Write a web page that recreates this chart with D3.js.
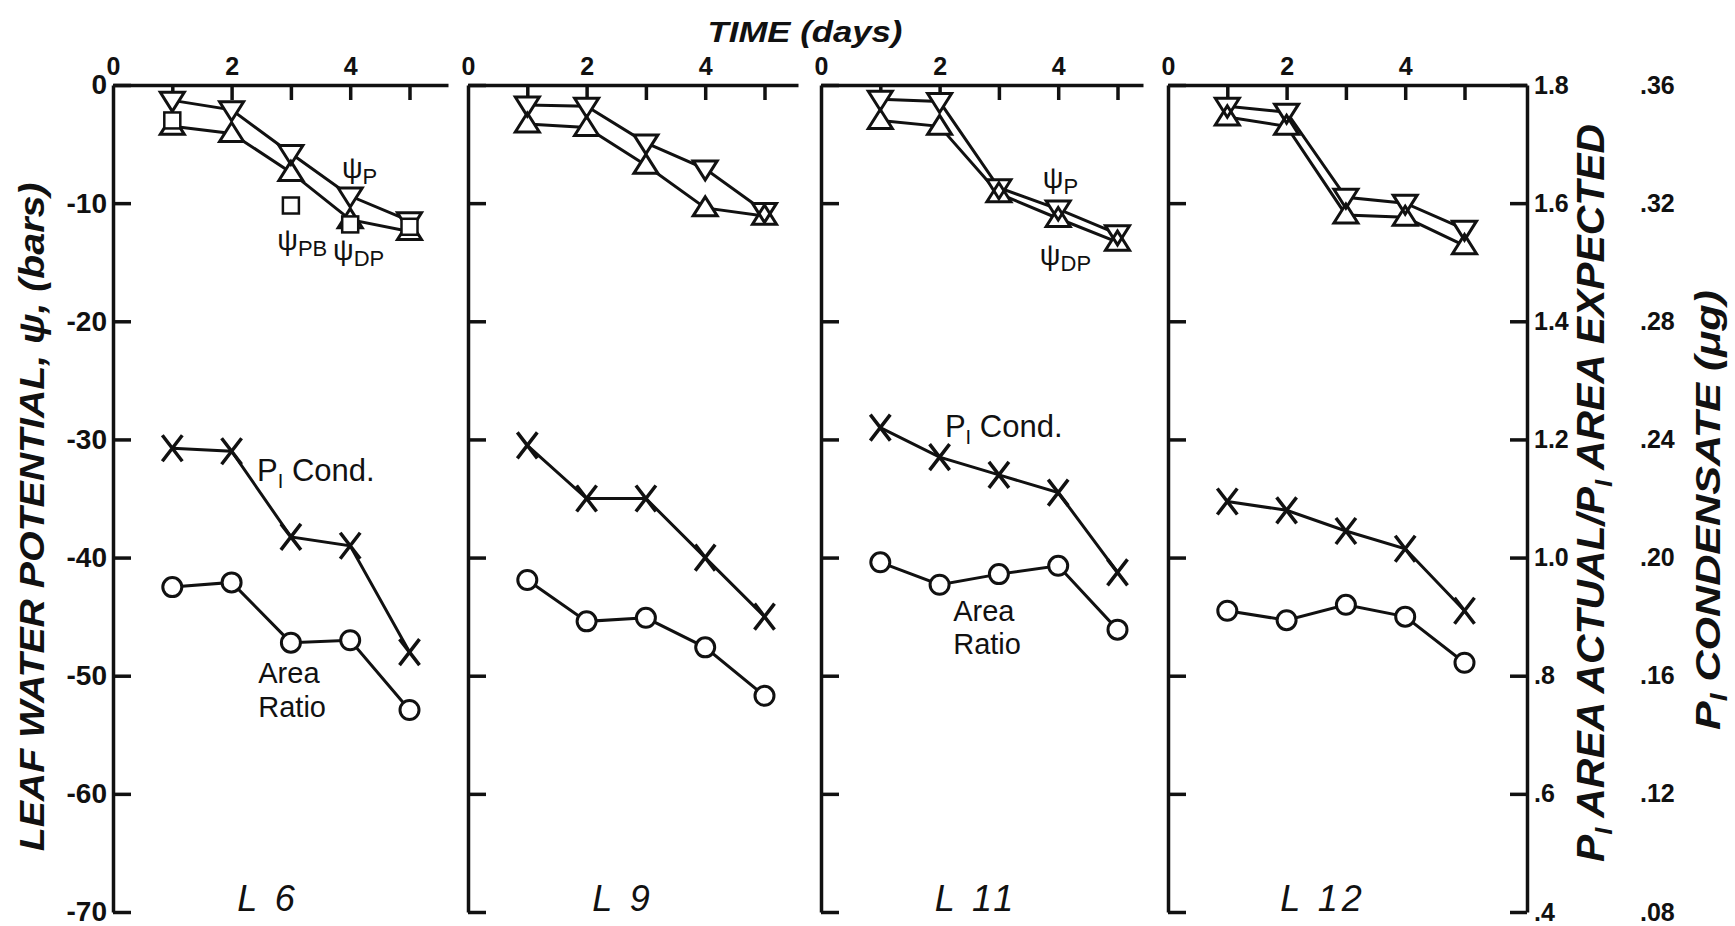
<!DOCTYPE html>
<html>
<head>
<meta charset="utf-8">
<script src="https://cdn.jsdelivr.net/npm/d3@7"></script>
<style>
body { margin: 0; background: #fff; }
svg { display: block; }
text { font-family: "Liberation Sans", Arial, sans-serif; fill: #111; }
.axis path, .axis line { stroke: #111; stroke-width: 3.5; }
.axis text { font-size: 28px; font-weight: bold; fill: #111; }
.lbl text { font-size: 25px; font-weight: bold; fill: #111; }
</style>
</head>
<body>
<svg id="chart" width="1735" height="926"></svg>
<script>
// leaves, days after start
let panelNames = ['L 6', 'L 9', 'L 11', 'L 12']
let days = [1, 2, 3, 4, 5]

// leaf water potential (bars)
let psiP = [
  [-1.3, -2.1, -5.8, -9.4, -11.5],
  [-1.7, -1.8, -4.9, -7.1, -10.7],
  [-1.2, -1.4, -8.7, -10.5, -12.6],
  [-1.8, -2.3, -9.5, -10.0, -12.2]
]
let psiDP = [
  [-3.5, -4.1, -7.4, -11.4, -12.4],
  [-3.3, -3.6, -6.8, -10.4, -11.1],
  [-3.0, -3.5, -9.2, -11.3, -13.3],
  [-2.7, -3.5, -11.0, -11.2, -13.6]
]
// psi PB only measured on L 6
let psiPBdays = [1, 3, 4, 5]
let psiPB = [-3.0, -10.2, -11.8, -12.0]

// P1 condensate (ug)
let p1Cond = [
  [0.237, 0.236, 0.207, 0.204, 0.168],
  [0.238, 0.220, 0.220, 0.200, 0.180],
  [0.244, 0.234, 0.228, 0.222, 0.195],
  [0.219, 0.216, 0.209, 0.203, 0.182]
]
// P1 area actual / P1 area expected
let areaRatio = [
  [0.950, 0.958, 0.856, 0.860, 0.742],
  [0.962, 0.892, 0.898, 0.848, 0.766],
  [0.992, 0.954, 0.972, 0.986, 0.878],
  [0.910, 0.894, 0.920, 0.900, 0.822]
]

// ticks
let dayTicks = [1, 2, 3, 4, 5]
let dayLabels = [0, 2, 4]
let psiTicks = [0, -10, -20, -30, -40, -50, -60, -70]
let ratioTicks = [1.8, 1.6, 1.4, 1.2, 1.0, 0.8, 0.6, 0.4]
let ratioLabels = ['1.8', '1.6', '1.4', '1.2', '1.0', '.8', '.6', '.4']
let condTicks = [0.36, 0.32, 0.28, 0.24, 0.20, 0.16, 0.12, 0.08]
let condLabels = ['.36', '.32', '.28', '.24', '.20', '.16', '.12', '.08']

// layout
let panelLeft = [113, 468, 821, 1168]
let panelWidth = [335, 330, 322, 359]
let dayPx = 59.3
let plotTop = 85, plotBottom = 912

let svg = d3.select('#chart')

let yPsi = d3.scaleLinear().domain([0, -70]).range([plotTop, plotBottom])
let yRatio = d3.scaleLinear().domain([1.8, 0.4]).range([plotTop, plotBottom])
let yCond = d3.scaleLinear().domain([0.36, 0.08]).range([plotTop, plotBottom])

let downTri = 'M-12,-8L12,-8L0,11Z'
let upTri = 'M-12,8L12,8L0,-11Z'
let cross = 'M-10,-13L10,13M10,-13L-10,13'

panelNames.forEach((name, i) => {
  let w = panelWidth[i]
  let x = d3.scaleLinear().domain([0, w / dayPx]).range([0, w])
  let g = svg.append('g').attr('transform', `translate(${panelLeft[i]},0)`)

  // top time axis, ticks inside
  g.append('g').attr('class', 'axis').attr('transform', `translate(0,${plotTop})`)
    .call(d3.axisTop(x).tickValues(dayTicks).tickSizeInner(-15).tickSizeOuter(0).tickFormat(''))
  g.append('g').attr('class', 'lbl').attr('transform', `translate(0,${plotTop})`)
    .call(d3.axisTop(x).tickValues(dayLabels).tickSize(0).tickPadding(10).tickFormat(d => String(d)))
    .call(a => a.select('.domain').remove())

  // left psi axis, only the first one labelled
  g.append('g').attr('class', 'axis')
    .call(d3.axisLeft(yPsi).tickValues(psiTicks).tickSizeInner(-18).tickSizeOuter(0).tickPadding(6)
      .tickFormat(d => i === 0 ? String(d) : ''))

  if (i === 3) {
    g.append('g').attr('class', 'axis lbl').attr('transform', `translate(${w},0)`)
      .call(d3.axisRight(yRatio).tickValues(ratioTicks).tickSizeInner(-17).tickSizeOuter(0).tickPadding(7)
        .tickFormat((d, k) => ratioLabels[k]))
  }

  let lineOf = (vals, ys) => d3.line().x((d, k) => x(days[k])).y(d => ys(d))(vals)

  let series = [
    { vals: psiP[i], ys: yPsi, shape: downTri },
    { vals: psiDP[i], ys: yPsi, shape: upTri },
    { vals: p1Cond[i], ys: yCond, shape: cross },
    { vals: areaRatio[i], ys: yRatio, shape: 'circle' }
  ]

  series.forEach(s => {
    g.append('path').attr('d', lineOf(s.vals, s.ys))
      .attr('fill', 'none').attr('stroke', '#111').attr('stroke-width', 3)
  })

  // triangles: white fills first, outlines after so both stay visible
  let tri = series.slice(0, 2)
  tri.forEach(s => {
    g.selectAll(null).data(s.vals).enter().append('path')
      .attr('d', s.shape)
      .attr('transform', (d, k) => `translate(${x(days[k])},${s.ys(d)})`)
      .attr('fill', '#fff')
  })
  tri.forEach(s => {
    g.selectAll(null).data(s.vals).enter().append('path')
      .attr('d', s.shape)
      .attr('transform', (d, k) => `translate(${x(days[k])},${s.ys(d)})`)
      .attr('fill', 'none').attr('stroke', '#111').attr('stroke-width', 3).attr('stroke-linejoin', 'miter')
  })

  if (i === 0) {
    g.selectAll(null).data(psiPB).enter().append('rect')
      .attr('x', (d, k) => x(psiPBdays[k]) - 8)
      .attr('y', d => yPsi(d) - 8)
      .attr('width', 16).attr('height', 16)
      .attr('fill', '#fff').attr('stroke', '#111').attr('stroke-width', 2.5)
  }

  g.selectAll(null).data(areaRatio[i]).enter().append('circle')
    .attr('cx', (d, k) => x(days[k]))
    .attr('cy', d => yRatio(d))
    .attr('r', 9.5)
    .attr('fill', '#fff').attr('stroke', '#111').attr('stroke-width', 3)

  g.selectAll(null).data(p1Cond[i]).enter().append('path')
    .attr('d', cross)
    .attr('transform', (d, k) => `translate(${x(days[k])},${yCond(d)})`)
    .attr('fill', 'none').attr('stroke', '#111').attr('stroke-width', 3.5)

  // leaf label
  g.append('text').attr('x', 155).attr('y', 911)
    .attr('text-anchor', 'middle').attr('font-size', 36).attr('font-style', 'italic')
    .attr('letter-spacing', 4).text(name)

  // curve annotations
  let psiLabel = (sub, day, val) => {
    let t = g.append('text').attr('x', x(day)).attr('y', yPsi(val)).attr('font-size', 29)
    t.append('tspan').text('ψ')
    t.append('tspan').attr('font-size', 22).attr('dy', 6).text(sub)
  }
  let plainLabel = (day, val, str) => {
    g.append('text').attr('x', x(day)).attr('y', yPsi(val)).attr('font-size', 29).text(str)
  }
  let condLabel = (day, val) => {
    let t = g.append('text').attr('x', x(day)).attr('y', yPsi(val)).attr('font-size', 31)
    t.append('tspan').text('P')
    t.append('tspan').attr('font-size', 20).attr('dy', 7).text('I')
    t.append('tspan').attr('dy', -7).text(' Cond.')
  }
  if (i === 0) {
    psiLabel('P', 3.86, -7.9)
    psiLabel('PB', 2.77, -14.0)
    psiLabel('DP', 3.71, -14.8)
    condLabel(2.43, -33.5)
    plainLabel(2.45, -50.6, 'Area')
    plainLabel(2.45, -53.5, 'Ratio')
  }
  if (i === 2) {
    psiLabel('P', 3.74, -8.7)
    psiLabel('DP', 3.69, -15.2)
    condLabel(2.09, -29.8)
    plainLabel(2.23, -45.4, 'Area')
    plainLabel(2.23, -48.2, 'Ratio')
  }
})

// condensate scale labels (no axis line)
svg.append('g').attr('class', 'lbl').attr('transform', 'translate(1633,0)')
  .call(d3.axisRight(yCond).tickValues(condTicks).tickSize(0).tickPadding(7)
    .tickFormat((d, k) => condLabels[k]))
  .call(a => a.select('.domain').remove())

// titles, squeezed to the lettering width of the original
let squeeze = (t, len, x, y, rot) => {
  let n = t.node().getBBox().width
  t.attr('transform', `translate(${x},${y}) rotate(${rot}) scale(${len / n},1)`)
}

let timeTitle = svg.append('text').attr('text-anchor', 'middle').attr('font-size', 30)
  .attr('font-style', 'italic').attr('font-weight', 'bold').text('TIME (days)')
squeeze(timeTitle, 195, 805, 42, 0)

let leftTitle = svg.append('text').attr('text-anchor', 'middle').attr('font-size', 36)
  .attr('font-style', 'italic').attr('font-weight', 'bold').text('LEAF WATER POTENTIAL, ψ, (bars)')
squeeze(leftTitle, 669, 44, 517, -90)

let r1 = svg.append('text').attr('text-anchor', 'middle').attr('font-size', 38)
  .attr('font-style', 'italic').attr('font-weight', 'bold')
r1.append('tspan').text('P')
r1.append('tspan').attr('font-size', 24).attr('dy', 8).text('I')
r1.append('tspan').attr('dy', -8).text(' AREA ACTUAL/P')
r1.append('tspan').attr('font-size', 24).attr('dy', 8).text('I')
r1.append('tspan').attr('dy', -8).text(' AREA EXPECTED')
squeeze(r1, 738, 1604, 493, -90)

let r2 = svg.append('text').attr('text-anchor', 'middle').attr('font-size', 36)
  .attr('font-style', 'italic').attr('font-weight', 'bold')
r2.append('tspan').text('P')
r2.append('tspan').attr('font-size', 23).attr('dy', 7).text('I')
r2.append('tspan').attr('dy', -7).text(' CONDENSATE (μg)')
squeeze(r2, 440, 1720, 510, -90)
</script>
</body>
</html>
